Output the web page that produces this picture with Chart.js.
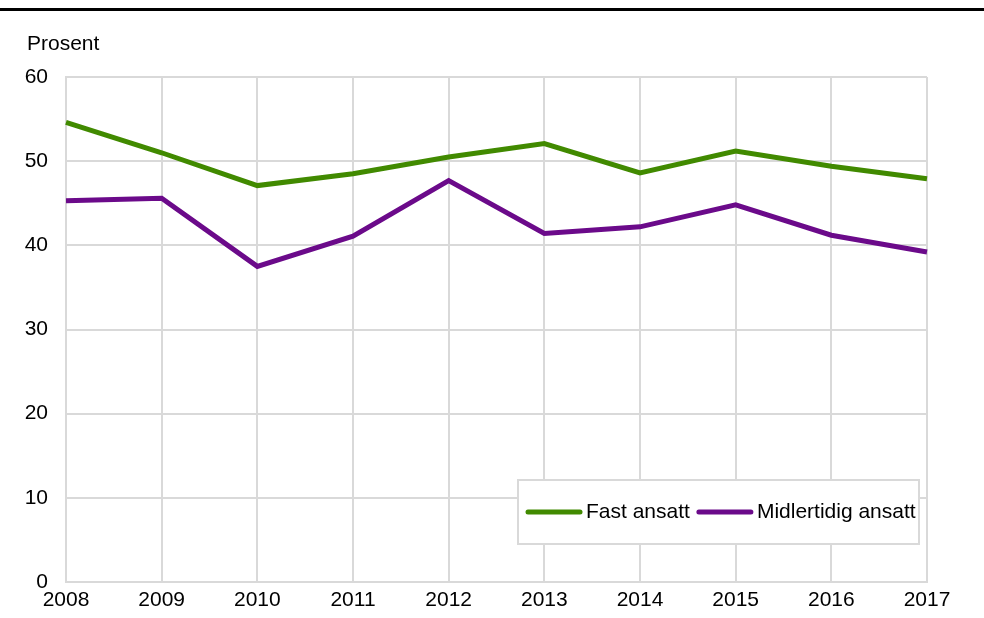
<!DOCTYPE html>
<html>
<head>
<meta charset="utf-8">
<script src="https://cdn.jsdelivr.net/npm/chart.js@4"></script>
<style>
  html, body { margin: 0; padding: 0; background: #fff; }
  #wrap { width: 984px; height: 618px; }
</style>
</head>
<body>
<div id="wrap"><canvas id="chart" width="984" height="618"></canvas></div>
<script>
var years = ['2008', '2009', '2010', '2011', '2012', '2013', '2014', '2015', '2016', '2017'];
var fastAnsatt = [54.6, 51.0, 47.1, 48.5, 50.5, 52.1, 48.6, 51.2, 49.4, 47.9];
var midlertidigAnsatt = [45.3, 45.6, 37.5, 41.1, 47.7, 41.4, 42.2, 44.8, 41.2, 39.2];
var yTicks = [0, 10, 20, 30, 40, 50, 60];

var FONT = '"Liberation Sans", Arial, sans-serif';
var FONT_SIZE = 21;

// top rule, unit label and the boxed legend inside the plot
var decorPlugin = {
    id: 'decor',
    afterDraw: function (chart) {
        var ctx = chart.ctx;
        var area = chart.chartArea;
        ctx.save();
        ctx.fillStyle = '#000';
        ctx.fillRect(0, 8, 984, 3);

        ctx.font = FONT_SIZE + 'px ' + FONT;
        ctx.textBaseline = 'middle';
        ctx.textAlign = 'left';
        ctx.fillText('Prosent', 27, 44);

        var boxW = 401, boxH = 64;
        var bx = area.right - 8 - boxW;
        var by = area.bottom - 38 - boxH;
        ctx.fillStyle = '#fff';
        ctx.fillRect(bx, by, boxW, boxH);
        ctx.strokeStyle = '#d9d9d9';
        ctx.lineWidth = 2;
        ctx.strokeRect(bx, by, boxW, boxH);

        var x = bx + 10;
        var cy = by + boxH / 2;
        chart.data.datasets.forEach(function (ds) {
            ctx.strokeStyle = ds.borderColor;
            ctx.lineWidth = 5;
            ctx.lineCap = 'round';
            ctx.beginPath();
            ctx.moveTo(x, cy);
            ctx.lineTo(x + 52, cy);
            ctx.stroke();
            ctx.fillStyle = '#000';
            ctx.fillText(ds.label, x + 58, cy);
            x += 58 + ctx.measureText(ds.label).width + 9;
        });
        ctx.restore();
    }
};

new Chart(document.getElementById('chart'), {
    type: 'line',
    data: {
        labels: years,
        datasets: [{
            label: 'Fast ansatt',
            data: fastAnsatt,
            borderColor: '#418a00',
            borderWidth: 5,
            pointRadius: 0,
            tension: 0
        }, {
            label: 'Midlertidig ansatt',
            data: midlertidigAnsatt,
            borderColor: '#6b0a8a',
            borderWidth: 5,
            pointRadius: 0,
            tension: 0
        }]
    },
    options: {
        responsive: false,
        animation: false,
        layout: { padding: { top: 77, right: 57, bottom: 0, left: 0 } },
        plugins: {
            legend: { display: false },
            tooltip: { enabled: false }
        },
        scales: {
            x: {
                offset: false,
                grid: { color: '#d9d9d9', lineWidth: 2, drawTicks: false },
                border: { color: '#d9d9d9', width: 2 },
                ticks: { color: '#000', font: { family: FONT, size: FONT_SIZE }, padding: 6, maxRotation: 0 },
                afterFit: function (scale) { scale.height = 36; }
            },
            y: {
                min: 0,
                max: 60,
                afterBuildTicks: function (scale) {
                    scale.ticks = yTicks.map(function (v) { return { value: v }; });
                },
                grid: { color: '#d9d9d9', lineWidth: 2, drawTicks: false },
                border: { color: '#d9d9d9', width: 2 },
                ticks: { color: '#000', font: { family: FONT, size: FONT_SIZE }, padding: 18 },
                afterFit: function (scale) { scale.width = 66; }
            }
        }
    },
    plugins: [decorPlugin]
});
</script>
</body>
</html>
